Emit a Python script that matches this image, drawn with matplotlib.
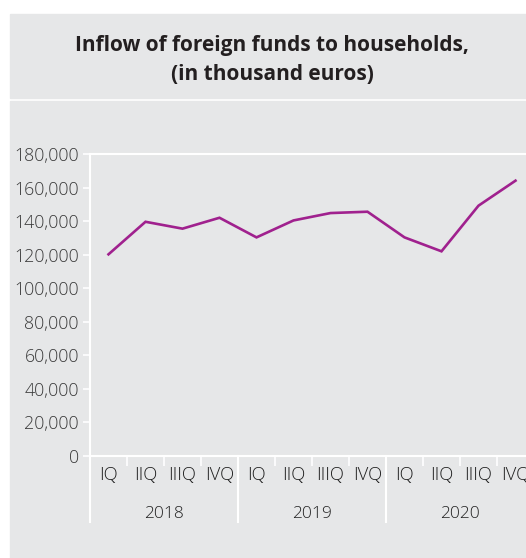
import matplotlib
matplotlib.use("Agg")
import matplotlib.pyplot as plt
import matplotlib.transforms as mtransforms
from matplotlib.patches import Rectangle

plt.rcParams['font.family'] = ['Open Sans', 'DejaVu Sans']

quarters = ['IQ', 'IIQ', 'IIIQ', 'IVQ'] * 3
years = ['2018', '2019', '2020']
values = [120200, 139600, 135500, 142000, 130300, 140400,
          144800, 145600, 130300, 122000, 149200, 164100]
yticks = list(range(0, 180001, 20000))

bg = '#e6e7e8'
W, H = 526, 558
fig = plt.figure(figsize=(W / 100, H / 100), dpi=100)
fig.patch.set_facecolor('white')

# title panel and chart panel
fig.patches.append(Rectangle((10 / W, 1 - 98 / H), 1, 84 / H,
                             transform=fig.transFigure, color=bg, zorder=-5))
fig.patches.append(Rectangle((10 / W, 0), 1, 1 - 101 / H,
                             transform=fig.transFigure, color=bg, zorder=-5))
fig.text(272 / W, 1 - 46 / H, 'Inflow of foreign funds to households,',
         ha='center', va='center', fontsize=15, fontweight='bold', color='#231f20')
fig.text(272 / W, 1 - 74 / H, '(in thousand euros)',
         ha='center', va='center', fontsize=15, fontweight='bold', color='#231f20')

ax = fig.add_axes([90 / W, (H - 456) / H, 444 / W, 302 / H])
ax.set_facecolor(bg)
x = list(range(len(values)))
ax.plot(x, values, color='#a0218e', lw=1.9, solid_joinstyle='miter')

ax.set_xlim(-0.5, 11.5)
ax.set_ylim(0, 180000)
ax.set_yticks(yticks)
ax.set_yticklabels([f'{v:,}' for v in yticks], fontweight='light')
ax.tick_params(axis='y', colors='white', length=5, width=1.2, labelcolor='#3a3a3a',
               labelsize=12.8, pad=3)

ax.set_xticks(x)
ax.set_xticklabels(quarters, fontweight='light')
ax.tick_params(axis='x', which='major', length=0, labelcolor='#1e1e1e',
               labelsize=13.3, pad=7)
ax.set_xticks([i + 0.5 for i in range(11)], minor=True)
ax.tick_params(axis='x', which='minor', colors='white', length=7, width=1.2)

for s in ['left', 'bottom', 'top']:
    ax.spines[s].set_color('white')
    ax.spines[s].set_linewidth(1.5)
ax.spines['right'].set_visible(False)

trans = mtransforms.blended_transform_factory(ax.transData, ax.transAxes)
for i, yr in enumerate(years):
    ax.plot([i * 4 - 0.5, i * 4 - 0.5], [0, -66 / 302], color='white', lw=1.5,
            transform=trans, clip_on=False)
    ax.text(i * 4 + 1.5, -58 / 302, yr, transform=trans, ha='center', va='center',
            fontsize=12.5, fontweight='light', color='#222222')

fig.savefig('out.png', dpi=100, facecolor=fig.get_facecolor())
